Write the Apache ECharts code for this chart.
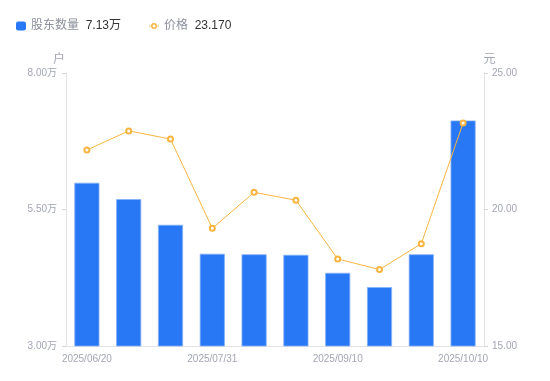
<!DOCTYPE html>
<html>
<head>
<meta charset="utf-8">
<script src="https://cdn.jsdelivr.net/npm/echarts@6/dist/echarts.min.js"></script>
<style>html,body{margin:0;padding:0;background:#fff}#c{width:550px;height:381px}</style>
</head>
<body>
<div id="c"></div>
<script>
var categories = ['2025/06/20','2025/06/30','2025/07/10','2025/07/31','2025/08/15','2025/08/29','2025/09/10','2025/09/19','2025/09/30','2025/10/10'];
var holders = [5.99, 5.69, 5.22, 4.69, 4.68, 4.67, 4.34, 4.08, 4.68, 7.13];
var prices = [22.18, 22.88, 22.58, 19.31, 20.63, 20.34, 18.19, 17.80, 18.75, 23.17];
var legendValues = ['7.13万', '23.170'];

var chart = echarts.init(document.getElementById('c'));
var gray = '#a3a6b4';
chart.setOption({
  animation: false,
  textStyle: { fontFamily: '"Liberation Sans", "Noto Sans CJK SC", sans-serif' },
  legend: {
    left: 11, top: 15,
    itemGap: 28,
    itemWidth: 10, itemHeight: 9,
    data: [
      { name: '股东数量', icon: 'roundRect', itemStyle: { color: '#2878f5', borderWidth: 0 } },
      { name: '价格', icon: 'path://M0,9.2h3.2v1.6h-3.2z M16.8,9.2h3.2v1.6h-3.2z M10,4a6,6 0 1,1 0,12a6,6 0 1,1 0,-12z M10,7a3,3 0 1,0 0,6a3,3 0 1,0 0,-6z',
        itemStyle: { color: '#f9b440', borderWidth: 0 } }
    ],
    formatter: function (n) {
      return '{n|' + n + '}  {v|' + (n === '股东数量' ? legendValues[0] : legendValues[1]) + '}';
    },
    textStyle: {
      rich: {
        n: { color: '#8c8f9c', fontSize: 12 },
        v: { color: '#333', fontSize: 12 }
      }
    }
  },
  grid: { left: 66, right: 66, top: 73, bottom: 35 },
  xAxis: {
    type: 'category',
    data: categories,
    axisLine: { lineStyle: { color: '#e3e3e6' } },
    axisTick: { show: false },
    axisLabel: { color: gray, fontSize: 10, interval: 2, margin: 8 }
  },
  yAxis: [
    {
      type: 'value', min: 3, max: 8, interval: 2.5,
      name: '户', nameGap: 7,
      nameTextStyle: { color: gray, fontSize: 12, padding: [0, 14, 0, 0] },
      axisLine: { show: true, lineStyle: { color: '#e3e3e6' } },
      axisTick: { show: true, length: 4, lineStyle: { color: '#d6d6da' } },
      splitLine: { show: false },
      axisLabel: { color: gray, fontSize: 10, margin: 9, formatter: function (v) { return v.toFixed(2) + '万'; } }
    },
    {
      type: 'value', min: 15, max: 25, interval: 5,
      name: '元', nameGap: 7,
      nameTextStyle: { color: gray, fontSize: 12, padding: [0, 0, 0, 11] },
      axisLine: { show: true, lineStyle: { color: '#e3e3e6' } },
      axisTick: { show: true, length: 4, lineStyle: { color: '#d6d6da' } },
      splitLine: { show: false },
      axisLabel: { color: gray, fontSize: 10, margin: 8, formatter: function (v) { return v.toFixed(2); } }
    }
  ],
  series: [
    {
      name: '股东数量', type: 'bar', yAxisIndex: 0,
      data: holders, barWidth: '60%',
      itemStyle: { color: '#2878f5', borderColor: '#86b1f7', borderWidth: 0.8 }
    },
    {
      name: '价格', type: 'line', yAxisIndex: 1,
      data: prices,
      symbol: 'emptyCircle', symbolSize: 5,
      lineStyle: { color: '#f9b440', width: 1 },
      itemStyle: { color: '#f9b440', borderWidth: 2 }
    }
  ]
});
</script>
</body>
</html>
